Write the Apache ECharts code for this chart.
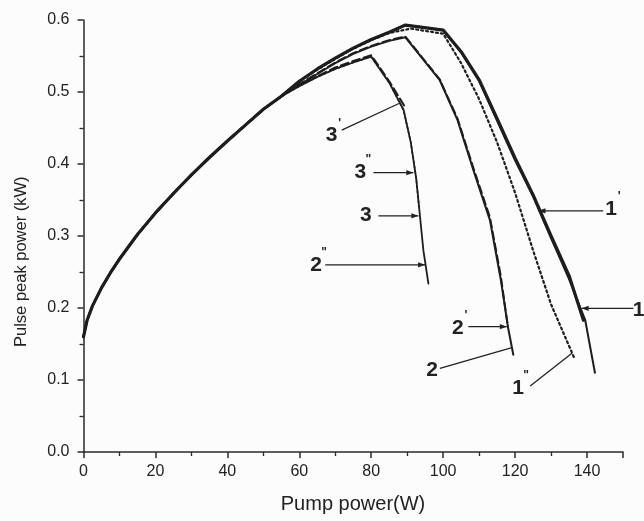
<!DOCTYPE html>
<html>
<head>
<meta charset="utf-8">
<script src="https://cdn.jsdelivr.net/npm/echarts@6/dist/echarts.min.js"></script>
<style>
  html, body { margin: 0; padding: 0; background: #fcfcfc; }
  #chart { width: 644px; height: 521px; }
</style>
</head>
<body>
<div id="chart"></div>
<script>
// Shared low-power rise (pump power W, pulse peak power kW)
const riseP = [0, 1, 2.5, 5, 7.5, 10, 15, 20, 25, 30, 35, 40, 45, 50, 55];
const riseV = [0.160, 0.183, 0.203, 0.228, 0.249, 0.268, 0.302, 0.332, 0.359, 0.385, 0.409, 0.432, 0.454, 0.476, 0.494];

// Curve 1 family
const c1P  = [60, 65, 70, 75, 80, 85, 89.5, 100, 105, 110, 115, 120, 125, 130, 135, 139.5, 142.2];
const c1V  = [0.515, 0.532, 0.547, 0.561, 0.573, 0.583, 0.593, 0.586, 0.555, 0.515, 0.460, 0.405, 0.355, 0.297, 0.240, 0.183, 0.110];
const c1aP = [60, 65, 70, 75, 80, 85, 89.5, 100, 105, 110, 115, 120, 125, 130, 135, 139];
const c1aV = [0.515, 0.532, 0.547, 0.561, 0.573, 0.583, 0.593, 0.586, 0.556, 0.517, 0.463, 0.408, 0.357, 0.300, 0.245, 0.183];
const c1bP = [60, 65, 70, 75, 80, 85, 91, 100, 105, 110, 115, 120, 125, 130, 136.5];
const c1bV = [0.515, 0.531, 0.546, 0.560, 0.572, 0.582, 0.588, 0.581, 0.540, 0.490, 0.430, 0.360, 0.280, 0.205, 0.130];

// Curve 2 family
const c2P  = [60, 65, 70, 75, 80, 85, 89.5, 99, 104, 108.5, 113, 116, 118, 119.5];
const c2V  = [0.510, 0.525, 0.540, 0.553, 0.563, 0.571, 0.576, 0.517, 0.461, 0.390, 0.322, 0.240, 0.174, 0.135];
const c2aP = [60, 65, 70, 75, 80, 85, 89.5, 99, 104, 108.5, 113, 116, 118];
const c2aV = [0.511, 0.526, 0.541, 0.554, 0.564, 0.572, 0.577, 0.518, 0.463, 0.393, 0.326, 0.245, 0.174];

// Curve 3 family
const c3P  = [60, 65, 70, 75, 80, 85, 89, 91, 92.5, 93.5, 94.5, 95.9];
const c3V  = [0.508, 0.521, 0.532, 0.541, 0.549, 0.513, 0.475, 0.430, 0.380, 0.330, 0.280, 0.234];
const c3aP = [60, 65, 70, 75, 80, 85, 89.3];
const c3aV = [0.509, 0.522, 0.534, 0.543, 0.551, 0.515, 0.480];
const c3bP = [60, 65, 70, 75, 80, 85, 89, 91, 92.5, 93.3];
const c3bV = [0.508, 0.521, 0.532, 0.541, 0.549, 0.513, 0.475, 0.430, 0.380, 0.340];

// Axis ticks
const xTicks = [0, 20, 40, 60, 80, 100, 120, 140];
const yTicks = [0.0, 0.1, 0.2, 0.3, 0.4, 0.5, 0.6];

// Curve labels with leader lines (data units)
const noteText  = ['3', '3', '3', '2', '2', '2', '1', '1', '1'];
const notePrime = ["'", '"', '', '"', "'", '', "'", '', '"'];
const noteAt    = [[69.0, 0.440], [77.0, 0.389], [78.5, 0.329], [64.7, 0.260], [104.1, 0.172], [96.9, 0.114], [146.7, 0.3375], [154.3, 0.197], [120.8, 0.089]];
const noteFrom  = [[71.8, 0.447], [80.6, 0.388], [82.0, 0.328], [67.2, 0.260], [107.0, 0.174], [99.1, 0.116], [144.5, 0.335], [152.9, 0.1996], [124.2, 0.0917]];
const noteTo    = [[87.7, 0.484], [91.7, 0.388], [93.1, 0.328], [94.97, 0.260], [117.7, 0.174], [119.1, 0.145], [126.5, 0.335], [138.5, 0.1996], [135.8, 0.137]];
const noteArrow = [false, true, true, true, true, false, true, true, false];

const INK = '#1e1e1e';
const FONT = '"Liberation Sans", Arial, sans-serif';

function join(ap, av, bp, bv) {
  const out = [];
  for (let i = 0; i < ap.length; i++) out.push([ap[i], av[i]]);
  for (let i = 0; i < bp.length; i++) out.push([bp[i], bv[i]]);
  return out;
}

function curve(name, data, width, type) {
  return {
    name, type: 'line', data, symbol: 'none', smooth: false, clip: false,
    lineStyle: { color: INK, width, type: type || 'solid', cap: 'round', join: 'round' },
    z: type && type !== 'solid' ? 2 : 3
  };
}

const chart = echarts.init(document.getElementById('chart'), null, { renderer: 'canvas' });

const option = {
  backgroundColor: '#fcfcfc',
  animation: false,
  grid: { left: 83.5, right: 21, top: 20, bottom: 69, containLabel: false },
  xAxis: {
    type: 'value', min: 0, max: 150, interval: 20,
    axisLine: { show: true, onZero: false, lineStyle: { color: '#2a2a2a', width: 1.5 } },
    axisTick: { show: true, inside: false, length: 6, lineStyle: { color: '#2a2a2a', width: 1.5 } },
    minorTick: { show: true, splitNumber: 2, length: 4, lineStyle: { color: '#2a2a2a', width: 1.3 } },
    splitLine: { show: false },
    axisLabel: {
      margin: 12, color: '#222', fontSize: 16, fontFamily: FONT, showMaxLabel: false,
      formatter: v => (xTicks.indexOf(v) >= 0 ? String(v) : '')
    }
  },
  yAxis: {
    type: 'value', min: 0, max: 0.6, interval: 0.1,
    axisLine: { show: true, onZero: false, lineStyle: { color: '#2a2a2a', width: 1.5 } },
    axisTick: { show: true, inside: false, length: 6, lineStyle: { color: '#2a2a2a', width: 1.5 } },
    minorTick: { show: true, splitNumber: 2, length: 4, lineStyle: { color: '#2a2a2a', width: 1.3 } },
    splitLine: { show: false },
    axisLabel: {
      margin: 14, color: '#222', fontSize: 16, fontFamily: FONT,
      formatter: v => {
        const t = yTicks.find(k => Math.abs(k - v) < 1e-6);
        return t === undefined ? '' : t.toFixed(1);
      }
    }
  },
  series: [
    curve("1''", join(riseP, riseV, c1bP, c1bV), 2.2, [2, 3]),
    curve("2'",  join(riseP, riseV, c2aP, c2aV), 2, [8, 4]),
    curve("3'",  join(riseP, riseV, c3aP, c3aV), 2, [8, 4]),
    curve("3''", join(riseP, riseV, c3bP, c3bV), 1.6, [2, 3]),
    curve("1'",  join(riseP, riseV, c1aP, c1aV), 3.2),
    curve('1',   join(riseP, riseV, c1P, c1V), 2),
    curve('2',   join(riseP, riseV, c2P, c2V), 2),
    curve('3',   join(riseP, riseV, c3P, c3V), 1.8)
  ]
};

chart.setOption(option);

// Leader lines, arrowheads, curve names and axis titles
const g = [];
for (let i = 0; i < noteText.length; i++) {
  const a = chart.convertToPixel({ gridIndex: 0 }, noteFrom[i]);
  const b = chart.convertToPixel({ gridIndex: 0 }, noteTo[i]);
  const c = chart.convertToPixel({ gridIndex: 0 }, noteAt[i]);
  g.push({ type: 'line', shape: { x1: a[0], y1: a[1], x2: b[0], y2: b[1] },
           style: { stroke: '#222', lineWidth: 1.3 }, z: 10 });
  if (noteArrow[i]) {
    const dx = b[0] - a[0], dy = b[1] - a[1];
    const len = Math.hypot(dx, dy);
    const ux = dx / len, uy = dy / len;
    const bx = b[0] - ux * 7, by = b[1] - uy * 7;
    g.push({ type: 'polygon',
             shape: { points: [[b[0], b[1]], [bx - uy * 2.6, by + ux * 2.6], [bx + uy * 2.6, by - ux * 2.6]] },
             style: { fill: '#222' }, z: 10 });
  }
  g.push({ type: 'text', x: c[0], y: c[1], z: 10,
           style: { text: noteText[i], font: 'bold 21px ' + FONT, fill: '#222', align: 'center', verticalAlign: 'middle' } });
  if (notePrime[i]) {
    g.push({ type: 'text', x: c[0] + 8, y: c[1] - 12, z: 10,
             style: { text: notePrime[i], font: 'bold 12px ' + FONT, fill: '#222', align: 'center', verticalAlign: 'middle' } });
  }
}
g.push({ type: 'text', x: 21.7, y: 261.7, rotation: Math.PI / 2,
         style: { text: 'Pulse peak power (kW)', font: '16.5px ' + FONT, fill: '#222', align: 'center', verticalAlign: 'middle' } });
g.push({ type: 'text', x: 353, y: 504,
         style: { text: 'Pump power(W)', font: '20px ' + FONT, fill: '#222', align: 'center', verticalAlign: 'middle' } });

chart.setOption({ graphic: g });
</script>
</body>
</html>
